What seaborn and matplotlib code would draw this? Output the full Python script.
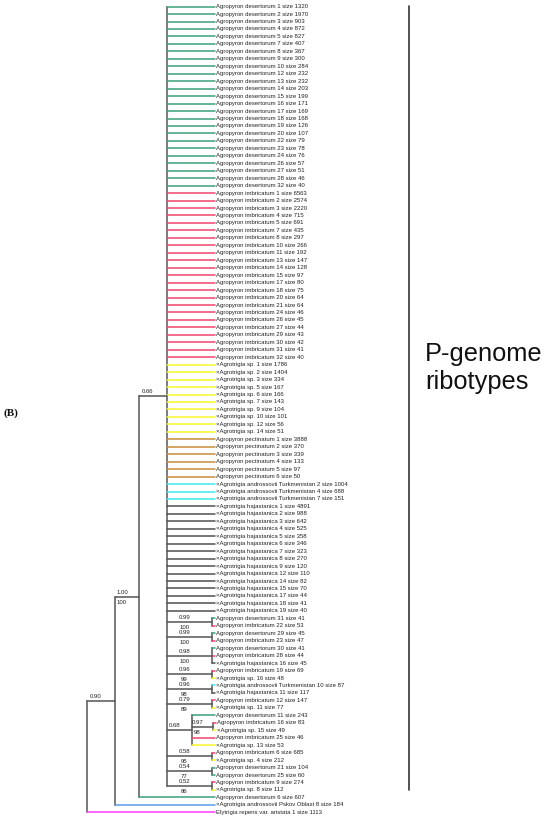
import matplotlib
matplotlib.use("Agg")
import matplotlib.pyplot as plt
import seaborn as sns
import pandas as pd

# leaf groups of the big polytomy: (id, size)
desertorum_ids = [1, 2, 3, 4, 5, 7, 8, 9, 10, 12, 13, 14, 15, 16, 17, 18, 19, 20, 22, 23, 24, 26, 27, 28, 32]
desertorum_sizes = [1320, 1970, 903, 872, 827, 407, 367, 300, 284, 232, 232, 203, 199, 171, 169, 168, 126, 107,
                    79, 78, 76, 57, 51, 46, 40]
imbricatum_ids = [1, 2, 3, 4, 5, 7, 8, 10, 11, 13, 14, 15, 17, 18, 20, 21, 24, 26, 27, 29, 30, 31, 32]
imbricatum_sizes = [6563, 2574, 2220, 715, 691, 435, 297, 266, 192, 147, 128, 97, 80, 75, 64, 64, 46, 45, 44,
                    43, 42, 41, 40]
agrosp_ids = [1, 2, 3, 5, 6, 7, 9, 10, 12, 14]
agrosp_sizes = [1786, 1404, 334, 167, 166, 143, 104, 101, 56, 51]
pectinatum_ids = [1, 2, 3, 4, 5, 6]
pectinatum_sizes = [3888, 370, 339, 133, 97, 50]
turkmen_ids = [2, 4, 7]
turkmen_sizes = [1004, 688, 151]
hajast_ids = [1, 2, 3, 4, 5, 6, 7, 8, 9, 12, 14, 15, 17, 18, 19]
hajast_sizes = [4891, 988, 642, 525, 358, 346, 323, 270, 120, 110, 82, 70, 44, 41, 40]

# small supported clades inside the polytomy: members as (taxon, id, size)
sub_clades = [
    [("des", 31, 41), ("imb", 22, 53)],
    [("des", 29, 45), ("imb", 23, 47)],
    [("des", 30, 41), ("imb", 28, 44), ("haj", 16, 45)],
    [("imb", 19, 69), ("sp", 16, 48)],
    [("tur", 10, 87), ("haj", 11, 117)],
    [("imb", 12, 147), ("sp", 11, 77)],
]
sub_post = ["0.99", "0.99", "0.98", "0.96", "0.96", "0.79"]
sub_boot = ["100", "100", "100", "99", "98", "89"]

# clade with support 0.68
c068_first = ("des", 11, 243)
c097 = [("imb", 16, 83), ("sp", 15, 49)]
c068_rest = [("imb", 25, 46), ("sp", 13, 53)]

late_clades = [
    [("imb", 6, 685), ("sp", 4, 212)],
    [("des", 21, 104), ("des", 25, 60)],
    [("imb", 9, 274), ("sp", 8, 112)],
]
late_post = ["0.58", "0.54", "0.52"]
late_boot = ["95", "77", "86"]

outer_des = ("des", 6, 607)
pskov = ("psk", 8, 184)
elytrigia = ("ely", 1, 1113)

# branch lengths
len_root_090 = 28
len_090_100 = 24
len_100_066 = 28
len_066_tip = 48
len_066_sub = 45
len_sub_tip = 3
len_066_068 = 25
len_068_097 = 21
len_068_tip = 23
len_100_tip = 76
len_090_tip = 100
len_root_tip = 128

names = {
    "des": "Agropyron desertorum {} size {}",
    "imb": "Agropyron imbricatum {} size {}",
    "sp": "\u00d7Agrotrigia sp. {} size {}",
    "pec": "Agropyron pectinatum {} size {}",
    "tur": "\u00d7Agrotrigia androssovii Turkmenistan {} size {}",
    "haj": "\u00d7Agrotrigia hajastanica {} size {}",
    "psk": "\u00d7Agrotrigia androssovii Pskov Oblast {} size {}",
    "ely": "Elytrigia repens var. aristata {} size {}",
}
colors = {
    "des": "#3a9f78", "imb": "#f0446c", "sp": "#f7f72a", "pec": "#c98a3c",
    "tur": "#3ae8ee", "haj": "#505050", "psk": "#5a9aec", "ely": "#ff3cff",
}


def leaf(t, length):
    key, i, s = t
    return {"name": names[key].format(i, s), "color": colors[key], "len": length, "kids": []}


def clade(kids, length, post=None, boot=None):
    return {"kids": kids, "len": length, "post": post, "boot": boot}


poly = []
for key, ids, sizes in [("des", desertorum_ids, desertorum_sizes), ("imb", imbricatum_ids, imbricatum_sizes),
                        ("sp", agrosp_ids, agrosp_sizes), ("pec", pectinatum_ids, pectinatum_sizes),
                        ("tur", turkmen_ids, turkmen_sizes), ("haj", hajast_ids, hajast_sizes)]:
    for i, s in zip(ids, sizes):
        poly.append(leaf((key, i, s), len_066_tip))
for mem, p, b in zip(sub_clades, sub_post, sub_boot):
    poly.append(clade([leaf(m, len_sub_tip) for m in mem], len_066_sub, p, b))
c68 = [leaf(c068_first, len_068_tip),
       clade([leaf(m, len_sub_tip) for m in c097], len_068_097, "0.97", "98")]
c68 += [leaf(m, len_068_tip) for m in c068_rest]
poly.append(clade(c68, len_066_068, "0.68"))
for mem, p, b in zip(late_clades, late_post, late_boot):
    poly.append(clade([leaf(m, len_sub_tip) for m in mem], len_066_sub, p, b))

node066 = clade(poly, len_100_066, "0.66")
node100 = clade([node066, leaf(outer_des, len_100_tip)], len_090_100, "1.00", "100")
node090 = clade([node100, leaf(pskov, len_090_tip)], len_root_090, "0.90")
root = clade([node090, leaf(elytrigia, len_root_tip)], 0)

horiz, vert, leaves, labels = [], [], [], []
counter = [0]


def layout(node, x0):
    node["x"] = x0 + node["len"]
    if not node["kids"]:
        node["y"] = counter[0]
        counter[0] += 1
        leaves.append(node)
    else:
        for k in node["kids"]:
            layout(k, node["x"])
        node["y"] = (node["kids"][0]["y"] + node["kids"][-1]["y"]) / 2
        vert.append((node["x"], node["kids"][0]["y"], node["kids"][-1]["y"]))
        if node.get("post"):
            labels.append((x0, node["x"], node["y"], node["post"], node.get("boot")))
    if node["len"] > 0:
        horiz.append((x0, node["x"], node["y"], node.get("color", "#555555")))


layout(root, 0)

hrows, vrows = [], []
for n, (a, b, y, c) in enumerate(horiz):
    hrows += [(n, a, y, c), (n, b, y, c)]
for n, (x, y0, y1) in enumerate(vert):
    vrows += [(n, x, y0), (n, x, y1)]
hdf = pd.DataFrame(hrows, columns=["seg", "x", "y", "c"])
vdf = pd.DataFrame(vrows, columns=["seg", "x", "y"])

sns.set_theme(style="white")
plt.rcParams["font.family"] = ["Liberation Sans", "DejaVu Sans"]

fig = plt.figure(figsize=(5.5, 8.22), dpi=100)
ax = fig.add_axes([0, 0, 1, 1])
sns.lineplot(data=vdf, x="x", y="y", units="seg", estimator=None, sort=False,
             color="#7a7a7a", linewidth=1.4, ax=ax, legend=False)
sns.lineplot(data=hdf, x="x", y="y", units="seg", estimator=None, sort=False, hue="c",
             palette={c: c for c in hdf["c"].unique()}, linewidth=1.1, ax=ax, legend=False)

for lf in leaves:
    ax.text(lf["x"] + 1, lf["y"], lf["name"], fontsize=4.3, va="center", ha="left", color="#222222")
for x0, x1, y, post, boot in labels:
    cx = (x0 + x1) / 2 - 5
    ax.text(cx, y - 0.6, post, fontsize=4.3, va="center", ha="center", color="#222222")
    if boot:
        ax.text(cx, y + 0.75, boot, fontsize=4.3, va="center", ha="center", color="#222222")

ax.set_xlim(-87, 463)
ax.set_ylim(109.3, -0.885)
ax.axis("off")

# bracket and titles
ax.plot([322, 322], [-0.1, 105.0], color="#333333", linewidth=1.2)
fig.text(425 / 550, 1 - 361 / 822, "P-genome", fontsize=18.3, va="baseline", ha="left", color="#111111")
fig.text(425 / 550, 1 - 389 / 822, "ribotypes", fontsize=18.3, va="baseline", ha="left", color="#111111")
fig.text(3 / 550, 1 - 413 / 822, "(B)", fontsize=8, va="center", ha="left",
         family="Liberation Serif", fontweight="bold", color="#111111")

fig.savefig("out.png", dpi=100, facecolor="white")
